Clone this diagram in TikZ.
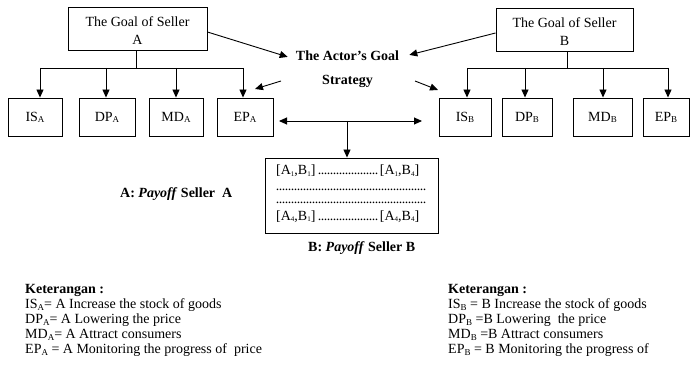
\documentclass[tikz,border=0pt]{standalone}
\usepackage{fontspec}
\setmainfont{Liberation Serif}
\usepackage{graphicx}
\usetikzlibrary{arrows.meta}
\newcommand\lsub[1]{\raisebox{-0.25ex}{\fontsize{9}{9}\selectfont #1}}
\newcommand\psub[1]{\raisebox{-0.2ex}{\fontsize{7}{7}\selectfont #1}}
\newcommand\dotsline{\leaders\hbox to 3pt{\hss.\hss}\hfill}
\begin{document}
\begin{tikzpicture}[x=1pt,y=-1pt,
  every node/.style={font=\fontsize{14}{18}\selectfont, inner sep=0pt},
  box/.style={draw, line width=0.9pt},
  bold/.style={font=\bfseries\fontsize{14}{18}\selectfont},
  arr/.style={line width=0.9pt, -{Triangle[length=8pt,width=7pt]}},
  darr/.style={line width=0.9pt, {Triangle[length=8pt,width=7pt]}-{Triangle[length=8pt,width=7pt]}},
  ln/.style={line width=0.9pt}]
\useasboundingbox (0,0) rectangle (690,366);

% Goal boxes
\node[box, minimum width=139pt, minimum height=43pt] (gA) at (137.5,28.5) {};
\node[anchor=base] (gAt1) at (137.5,27) {The Goal of Seller};
\node[anchor=base] (gAt2) at (137.5,45) {A};
\node[box, minimum width=137pt, minimum height=43pt] (gB) at (564.5,29.5) {};
\node[anchor=base] (gBt1) at (564.5,28) {The Goal of Seller};
\node[anchor=base] (gBt2) at (564.5,46) {B};

% strategy boxes A
\node[box, minimum width=54pt, minimum height=38.5pt] (isA) at (35,117.25) {IS\lsub{A}};
\node[box, minimum width=56pt, minimum height=38.5pt] (dpA) at (107,117.25) {DP\lsub{A}};
\node[box, minimum width=54pt, minimum height=38.5pt] (mdA) at (176,117.25) {MD\lsub{A}};
\node[box, minimum width=56pt, minimum height=38.5pt] (epA) at (245,117.25) {EP\lsub{A}};
% strategy boxes B
\node[box, minimum width=52pt, minimum height=38.5pt] (isB) at (465,117.25) {IS\lsub{B}};
\node[box, minimum width=50pt, minimum height=38.5pt] (dpB) at (527,117.25) {DP\lsub{B}};
\node[box, minimum width=59pt, minimum height=38.5pt] (mdB) at (602.5,117.25) {MD\lsub{B}};
\node[box, minimum width=46pt, minimum height=38.5pt] (epB) at (666,117.25) {EP\lsub{B}};

% tree A
\coordinate (jA) at (136,68);
\coordinate (hA1) at (40,68);
\coordinate (hA2) at (106,68);
\coordinate (hA3) at (176,68);
\coordinate (hA4) at (243,68);
\draw[ln] (gA.south -| jA) -- (jA);
\draw[ln] (hA1) -- (hA4);
\draw[arr] (hA1) -- (hA1 |- isA.north);
\draw[arr] (hA2) -- (hA2 |- dpA.north);
\draw[arr] (hA3) -- (hA3 |- mdA.north);
\draw[arr] (hA4) -- (hA4 |- epA.north);
% tree B
\coordinate (jB) at (567,68);
\coordinate (hB1) at (467,68);
\coordinate (hB2) at (525,68);
\coordinate (hB3) at (603,68);
\coordinate (hB4) at (668,68);
\draw[ln] (gB.south -| jB) -- (jB);
\draw[ln] (hB1) -- (hB4);
\draw[arr] (hB1) -- (hB1 |- isB.north);
\draw[arr] (hB2) -- (hB2 |- dpB.north);
\draw[arr] (hB3) -- (hB3 |- mdB.north);
\draw[arr] (hB4) -- (hB4 |- epB.north);

% central text
\node[bold, anchor=base] (act) at (347.5,60.7) {The Actor’s Goal};
\node[bold, anchor=base] (strat) at (347.5,84.3) {Strategy};
\draw[arr] ([yshift=-3.5pt]gA.east) -- ([xshift=-8pt,yshift=-1pt]act.west);
\draw[arr] ([yshift=-3.5pt]gB.west) -- ([xshift=10pt,yshift=1pt]act.east);
\coordinate (sl1) at (281,81);
\coordinate (sl2) at (255,89);
\coordinate (sr1) at (415,81);
\coordinate (sr2) at (438,90);
\draw[arr] (sl1) -- (sl2);
\draw[arr] (sr1) -- (sr2);

% double arrow and payoff box
\coordinate (dL) at (279,121);
\coordinate (dR) at (422,121);
\coordinate (dM) at (347,121);
\draw[darr] (dL) -- (dR);
\node[box, minimum width=173pt, minimum height=75pt] (pay) at (351.5,195.5) {};
\draw[arr] (dM) -- (dM |- pay.north);
\node[anchor=base west] (p1) at (276,175) {\hbox to 143pt{[A\psub{1},B\psub{1}]\dotsline[A\psub{1},B\psub{4}]}};
\node[anchor=base west] (p2) at (276,190) {\hbox to 152pt{\dotsline}};
\node[anchor=base west] (p3) at (276,204) {\hbox to 152pt{\dotsline}};
\node[anchor=base west] (p4) at (276,220) {\hbox to 143pt{[A\psub{4},B\psub{1}]\dotsline[A\psub{4},B\psub{4}]}};

\node[bold, anchor=base west] (plA) at (120,197) {A: \textit{Payoff} Seller\ \ A};
\node[bold, anchor=base west] (plB) at (308,251) {B: \textit{Payoff} Seller B};

% legend
\node[bold, anchor=base west] (kA) at (25,293.5) {Keterangan :};
\node[anchor=base west] (kA1) at (25,308.5) {IS\lsub{A}= A Increase the stock of goods};
\node[anchor=base west] (kA2) at (25,323.5) {DP\lsub{A}= A Lowering the price};
\node[anchor=base west] (kA3) at (25,338.5) {MD\lsub{A}= A Attract consumers};
\node[anchor=base west] (kA4) at (25,353.5) {EP\lsub{A} = A Monitoring the progress of\ \ price};
\node[bold, anchor=base west] (kB) at (448,293.5) {Keterangan :};
\node[anchor=base west] (kB1) at (448,308.5) {IS\lsub{B} = B Increase the stock of goods};
\node[anchor=base west] (kB2) at (448,323.5) {DP\lsub{B} =B Lowering\ \ the price};
\node[anchor=base west] (kB3) at (448,338.5) {MD\lsub{B} =B Attract consumers};
\node[anchor=base west] (kB4) at (448,353.5) {EP\lsub{B} = B Monitoring the progress of};
\end{tikzpicture}
\end{document}
